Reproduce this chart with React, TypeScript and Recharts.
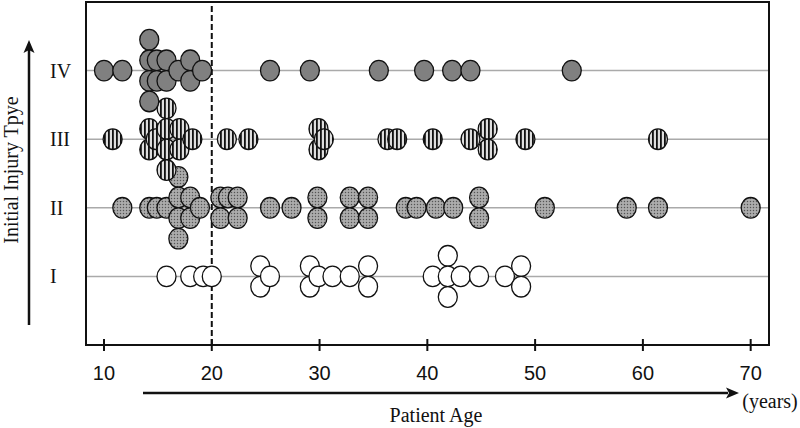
import React from 'react';
import { ScatterChart, Scatter, XAxis, YAxis, CartesianGrid, ReferenceLine, ReferenceArea } from 'recharts';

// row labels (y = 1..4) and age ticks
const injuryTypes = ['I', 'II', 'III', 'IV'];
const ageTicks = [10, 20, 30, 40, 50, 60, 70];

// ages, slot = stacking position in half-dot steps (+ is up)
const typeIAges = [15.8, 18.0, 19.2, 20.0, 24.5, 24.5, 25.4, 29.1, 29.1, 29.9, 31.2, 32.8, 34.5, 34.5, 40.5, 41.9, 41.9, 41.9, 43.1, 44.8, 47.2, 48.7, 48.7];
const typeISlots = [0, 0, 0, 0, 1, -1, 0, 1, -1, 0, 0, 0, 1, -1, 0, 2, 0, -2, 0, 0, 0, 1, -1];

const typeIIAges = [11.7, 14.2, 14.9, 15.8, 16.9, 16.9, 16.9, 16.9, 18.0, 18.0, 18.9, 20.8, 20.8, 21.5, 22.4, 22.4, 25.4, 27.4, 29.8, 29.8, 32.8, 32.8, 34.5, 34.5, 38.0, 39.0, 40.8, 42.4, 44.8, 44.8, 50.9, 58.5, 61.4, 70.0];
const typeIISlots = [0, 0, 0, 0, 3, 1, -1, -3, 1, -1, 0, 1, -1, 1, 1, -1, 0, 0, 1, -1, 1, -1, 1, -1, 0, 0, 0, 0, 1, -1, 0, 0, 0, 0];

const typeIIIAges = [10.8, 14.2, 14.2, 14.8, 15.8, 15.8, 15.8, 15.8, 17.0, 17.0, 18.2, 21.4, 23.4, 29.9, 29.9, 30.4, 36.3, 37.2, 40.5, 44.0, 45.6, 45.6, 49.1, 61.4];
const typeIIISlots = [0, 1, -1, 0, 3, 1, -1, -3, 1, -1, 0, 0, 0, 1, -1, 0, 0, 0, 0, 0, 1, -1, 0, 0];

const typeIVAges = [10.0, 11.7, 14.2, 14.2, 14.2, 14.2, 14.9, 14.9, 15.8, 15.8, 16.9, 18.0, 18.0, 19.1, 25.4, 29.1, 35.5, 39.7, 42.3, 44.0, 53.4];
const typeIVSlots = [0, 0, 3, 1, -1, -3, 1, -1, 1, -1, 0, 1, -1, 0, 0, 0, 0, 0, 0, 0, 0];

const HALF_STEP = 0.15; // half a dot height, in row units
const X_DOMAIN: [number, number] = [8.33, 71.7];
const Y_DOMAIN: [number, number] = [0, 5];

const toPoints = (row: number, ages: number[], slots: number[]) =>
  ages.map((age, i) => ({ age, y: row + slots[i] * HALF_STEP }));

const serif = '"Liberation Serif", "Times New Roman", serif';
const sans = '"Liberation Sans", Arial, Helvetica, sans-serif';

const Dot = (props: any) => {
  const { cx, cy, fill } = props;
  if (cx == null || cy == null) return null;
  return <ellipse cx={cx} cy={cy} rx={9.5} ry={10.3} fill={fill} stroke="#111" strokeWidth={1.3} />;
};

const AgeTick = (props: any) => {
  const { x, y, payload } = props;
  return (
    <g>
      <line x1={x} y1={y - 6} x2={x} y2={y + 6} stroke="#111" strokeWidth={2} />
      <text x={x} y={y + 35} textAnchor="middle" fontFamily={sans} fontSize={20} fill="#111">
        {payload.value}
      </text>
    </g>
  );
};

const TypeTick = (props: any) => {
  const { x, y, payload } = props;
  return (
    <text x={x} y={y + 7} textAnchor="start" fontFamily={serif} fontSize={20} fill="#111">
      {injuryTypes[payload.value - 1]}
    </text>
  );
};

const App: React.FC = () => {
  return (
    <div style={{ position: 'absolute', left: 0, top: 0, width: 800, height: 428, background: '#fff' }}>
      <svg width={800} height={428} style={{ position: 'absolute', left: 0, top: 0 }}>
        <defs>
          <pattern id="stripes" width={4} height={4} patternUnits="userSpaceOnUse">
            <rect width={4} height={4} fill="#dedede" />
            <rect width={1.8} height={4} fill="#111" />
          </pattern>
          <pattern id="stipple" width={3} height={3} patternUnits="userSpaceOnUse">
            <rect width={3} height={3} fill="#a0a0a0" />
            <rect width={1} height={1} fill="#555" />
            <rect x={1.5} y={1.5} width={1} height={1} fill="#cfcfcf" />
          </pattern>
        </defs>
        {/* vertical arrow */}
        <line x1={29} y1={325} x2={29} y2={50} stroke="#111" strokeWidth={2.5} />
        <polygon points="29,40 23.5,53 29,50 34.5,53" fill="#111" />
        {/* horizontal arrow */}
        <line x1={143} y1={393} x2={728} y2={393} stroke="#111" strokeWidth={2.5} />
        <polygon points="739,393 726,387.5 729,393 726,398.5" fill="#111" />
        <text x={18} y={170} transform="rotate(-90, 18, 170)" textAnchor="middle" fontFamily={serif} fontSize={20} fill="#111">
          Initial Injury Tpye
        </text>
        <text x={436} y={422} textAnchor="middle" fontFamily={serif} fontSize={20} fill="#111">
          Patient Age
        </text>
        <text x={770} y={408} textAnchor="middle" fontFamily={serif} fontSize={20} fill="#111">
          (years)
        </text>
      </svg>
      <div style={{ position: 'absolute', left: 0, top: 0 }}>
        <ScatterChart width={800} height={428} margin={{ top: 2, right: 31, bottom: 43, left: 50 }}>
          <CartesianGrid horizontal vertical={false} stroke="#aaa" strokeWidth={1.5} />
          <XAxis
            type="number"
            dataKey="age"
            domain={X_DOMAIN}
            allowDataOverflow
            ticks={ageTicks}
            height={40}
            tickLine={false}
            tickSize={0}
            tickMargin={0}
            axisLine={{ stroke: '#111', strokeWidth: 2 }}
            tick={<AgeTick />}
            interval={0}
          />
          <YAxis
            type="number"
            dataKey="y"
            domain={Y_DOMAIN}
            allowDataOverflow
            ticks={[1, 2, 3, 4]}
            width={36}
            tickLine={false}
            tickSize={0}
            tickMargin={36}
            axisLine={false}
            tick={<TypeTick />}
            interval={0}
          />
          <ReferenceArea
            x1={X_DOMAIN[0]}
            x2={X_DOMAIN[1]}
            y1={Y_DOMAIN[0]}
            y2={Y_DOMAIN[1]}
            fill="none"
            stroke="#111"
            strokeWidth={2}
            ifOverflow="visible"
          />
          <Scatter data={toPoints(1, typeIAges, typeISlots)} fill="#fff" shape={<Dot />} isAnimationActive={false} />
          <Scatter data={toPoints(2, typeIIAges, typeIISlots)} fill="url(#stipple)" shape={<Dot />} isAnimationActive={false} />
          <Scatter data={toPoints(3, typeIIIAges, typeIIISlots)} fill="url(#stripes)" shape={<Dot />} isAnimationActive={false} />
          <Scatter data={toPoints(4, typeIVAges, typeIVSlots)} fill="#808080" shape={<Dot />} isAnimationActive={false} />
          <ReferenceLine x={20} stroke="#111" strokeWidth={2} strokeDasharray="6 3" ifOverflow="visible" />
        </ScatterChart>
      </div>
    </div>
  );
};

export default App;
